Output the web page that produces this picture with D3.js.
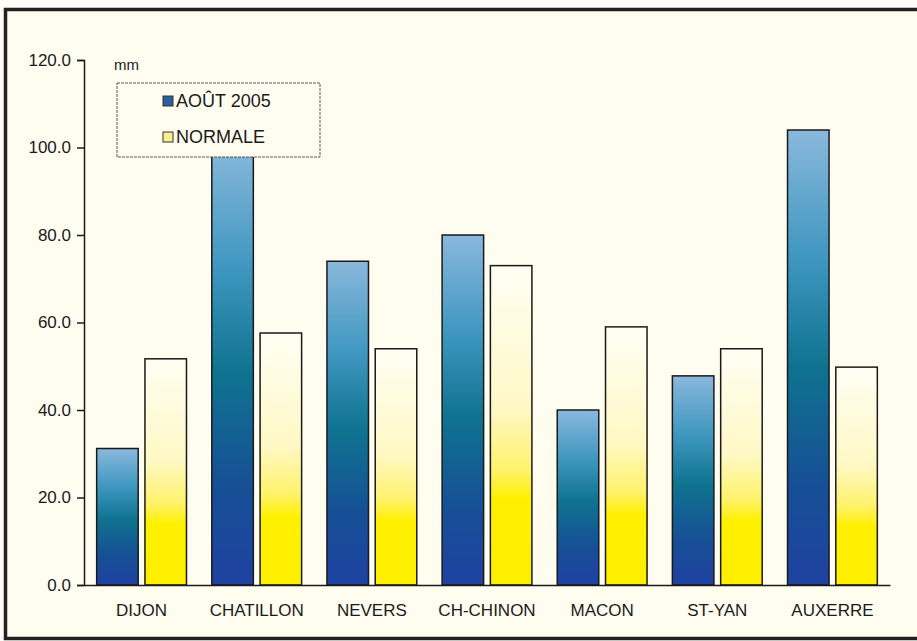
<!DOCTYPE html>
<html>
<head>
<meta charset="utf-8">
<script src="https://cdn.jsdelivr.net/npm/d3@7"></script>
<style>
  body { margin: 0; background: #fdfcf6; }
  svg { display: block; }
  text { font-family: "Liberation Sans", Arial, sans-serif; fill: #1a1a1a; }
</style>
</head>
<body>
<svg width="917" height="641"></svg>
<script>
const stations = ["DIJON", "CHATILLON", "NEVERS", "CH-CHINON", "MACON", "ST-YAN", "AUXERRE"]
const aout2005 = [31.2, 101, 74.0, 80.0, 40.0, 47.8, 104.0]
const normale = [51.7, 57.6, 54.0, 73.0, 59.0, 54.0, 49.8]
const seriesNames = ["AOÛT 2005", "NORMALE"]
const yTicks = [0, 20, 40, 60, 80, 100, 120]

const svg = d3.select("svg")

// cadre
svg.append("rect")
  .attr("x", 5.5).attr("y", 9.5)
  .attr("width", 920).attr("height", 629)
  .attr("fill", "#fffdf0")
  .attr("stroke", "#222")
  .attr("stroke-width", 3.5)

const defs = svg.append("defs")
const blue = defs.append("linearGradient")
  .attr("id", "gBlue").attr("x1", 0).attr("y1", 0).attr("x2", 0).attr("y2", 1)
blue.append("stop").attr("offset", "0%").attr("stop-color", "#8ab8dc")
blue.append("stop").attr("offset", "28%").attr("stop-color", "#3f97c0")
blue.append("stop").attr("offset", "52%").attr("stop-color", "#0f7390")
blue.append("stop").attr("offset", "78%").attr("stop-color", "#164f95")
blue.append("stop").attr("offset", "100%").attr("stop-color", "#1f42a2")

const yellow = defs.append("linearGradient")
  .attr("id", "gYellow").attr("x1", 0).attr("y1", 0).attr("x2", 0).attr("y2", 1)
yellow.append("stop").attr("offset", "0%").attr("stop-color", "#fffef4")
yellow.append("stop").attr("offset", "45%").attr("stop-color", "#fff8c4")
yellow.append("stop").attr("offset", "64%").attr("stop-color", "#fff26a")
yellow.append("stop").attr("offset", "73%").attr("stop-color", "#fff000")
yellow.append("stop").attr("offset", "100%").attr("stop-color", "#ffee00")

const x0 = 84, x1 = 890, yBase = 585, yTop = 60

const x = d3.scaleBand().domain(stations).range([x0, x1]).paddingInner(0.22).paddingOuter(0.11)
const xs = d3.scaleBand().domain(seriesNames).range([0, x.bandwidth()]).paddingInner(0.14)
const y = d3.scaleLinear().domain([0, 120]).range([yBase, yTop])

const fills = ["url(#gBlue)", "url(#gYellow)"]
const data = stations.map((s, i) => ({ s, v: [aout2005[i], normale[i]] }))

const groups = svg.append("g").selectAll("g")
  .data(data)
  .enter()
  .append("g")
    .attr("transform", d => `translate(${x(d.s)},0)`)

groups.selectAll("rect")
  .data(d => d.v.map((v, k) => ({ v, k })))
  .enter()
  .append("rect")
    .attr("x", d => xs(seriesNames[d.k]))
    .attr("y", d => y(d.v))
    .attr("width", xs.bandwidth())
    .attr("height", d => yBase - y(d.v))
    .attr("fill", d => fills[d.k])
    .attr("stroke", "#1a1a1a")
    .attr("stroke-width", 1.5)

// axe Y
const yAxis = svg.append("g")
  .attr("transform", `translate(${x0},0)`)
  .call(d3.axisLeft(y).tickValues(yTicks).tickFormat(d3.format(".1f")).tickSize(7).tickPadding(6))
yAxis.select(".domain").attr("stroke", "#1a1a1a").attr("stroke-width", 1.5)
yAxis.selectAll(".tick line").attr("stroke", "#1a1a1a").attr("stroke-width", 1.5)
yAxis.selectAll("text").style("font-size", "17px").attr("fill", "#1a1a1a")

// axe X
const xAxis = svg.append("g")
  .attr("transform", `translate(0,${yBase})`)
  .call(d3.axisBottom(x).tickSize(0).tickPadding(19))
xAxis.select(".domain").attr("stroke", "#1a1a1a").attr("stroke-width", 1.5)
xAxis.selectAll("text").style("font-size", "17px").attr("fill", "#1a1a1a")

svg.append("text")
  .attr("x", 114).attr("y", 70)
  .style("font-size", "15px")
  .text("mm")

// légende
const legend = svg.append("g").attr("transform", "translate(117,83)")
legend.append("rect")
  .attr("width", 203).attr("height", 74)
  .attr("fill", "#fffdf0")
  .attr("stroke", "#555")
  .attr("stroke-width", 1)
  .attr("stroke-dasharray", "3,1")

const legendFills = ["#2b5f9e", "#f7f08a"]
seriesNames.forEach((name, i) => {
  legend.append("rect")
    .attr("x", 46).attr("y", 13 + i * 36)
    .attr("width", 10).attr("height", 10)
    .attr("fill", legendFills[i])
    .attr("stroke", "#333")
  legend.append("text")
    .attr("x", 59).attr("y", 24 + i * 36)
    .style("font-size", "18px")
    .text(name)
})
</script>
</body>
</html>
